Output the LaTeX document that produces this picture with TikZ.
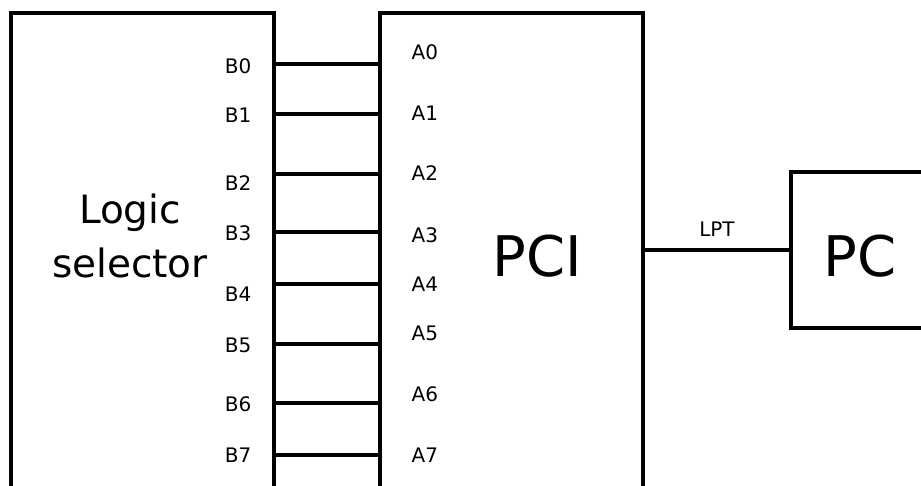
\documentclass[tikz,border=0pt]{standalone}
\usepackage{fontspec}
\setmainfont{DejaVu Sans}
\usetikzlibrary{positioning}

\begin{document}
\begin{tikzpicture}[x=1pt,y=-1pt,line width=3.2pt,
  box node/.style={draw,rectangle,inner sep=0pt,outer sep=0pt,anchor=north west},
  pin label/.style={font=\fontsize{20}{24}\selectfont,inner sep=0pt},
  big label/.style={font=\fontsize{56}{60}\selectfont,inner sep=0pt}]

  \useasboundingbox (0,0) rectangle (921,485);
  \clip (0,0) rectangle (921,485);

  \node[box node,minimum width=263pt,minimum height=520pt] (sel) at (11,13) {};
  \node[box node,minimum width=263pt,minimum height=520pt] (pci) at (380,13) {};
  \node[box node,minimum width=200pt,minimum height=156pt] (pc) at (791,172) {};

  \node[font=\fontsize{39}{54}\selectfont,align=center,inner sep=0pt] (seltext) at (130,236) {Logic\\selector};
  \node[big label] (pcitext) at (537,256) {PCI};
  \node[big label] (pctext) at (860,256) {PC};

  % pins between selector and PCI
  \foreach \i/\y/\by/\ay in {0/64/66/52,1/114/115/113,2/174/183/173,3/232/233/235,
                             4/284/294/284,5/344/345/333,6/403/404/394,7/455/455/455} {
    \coordinate (b\i) at (sel.north east |- 0,\y);
    \coordinate (a\i) at (pci.north west |- 0,\y);
    \draw (b\i) -- (a\i);
    \node[pin label,anchor=east] (blab\i) at (253,\by) {B\i};
    \node[pin label,anchor=west] (alab\i) at (410,\ay) {A\i};
  }

  \draw (pci.east |- pc.west) -- (pc.west)
    node[pin label,midway,above=12pt] (lpt) {LPT};
\end{tikzpicture}
\end{document}
